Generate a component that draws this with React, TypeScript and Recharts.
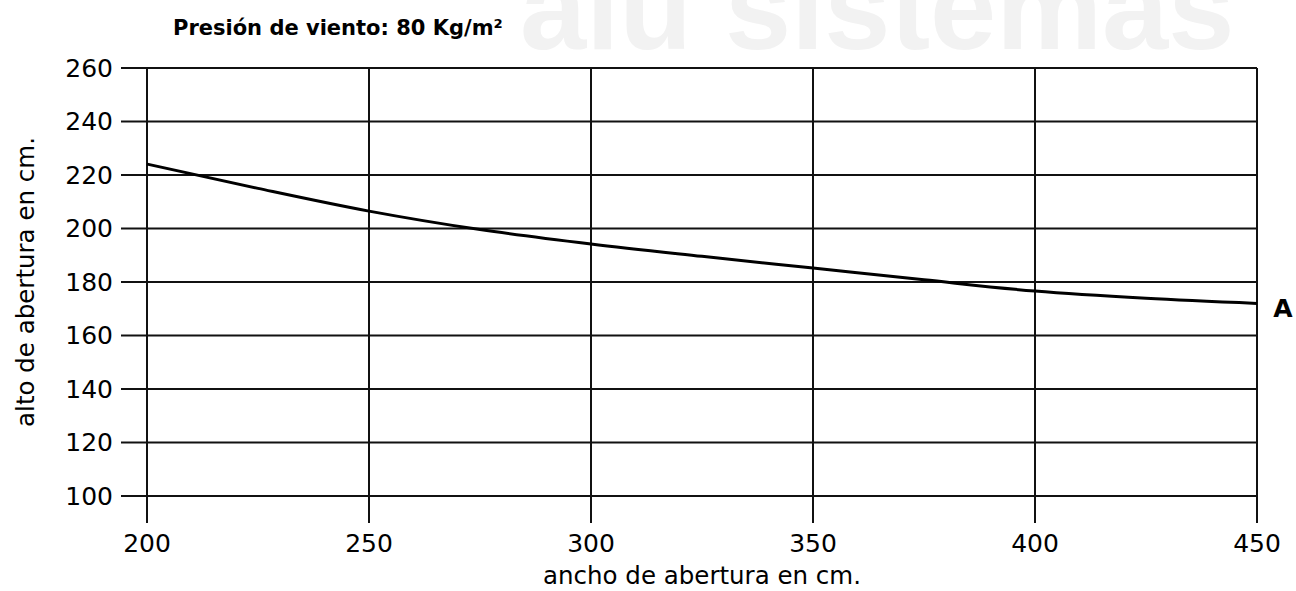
import React from 'react';
import { LineChart, Line, XAxis, YAxis, CartesianGrid, LabelList } from 'recharts';

// ancho de abertura (cm) -> alto de abertura (cm), curva A
const anchos = [200, 225, 250, 275, 300, 325, 350, 375, 400, 425, 450];
const altosA = [224.1, 215, 206.5, 199.6, 194.2, 189.6, 185.2, 180.8, 176.6, 173.9, 172];

const xTicks = [200, 250, 300, 350, 400, 450];
const yTicks = [100, 120, 140, 160, 180, 200, 220, 240, 260];

const titulo = 'Presión de viento: 80 Kg/m²';
const labelX = 'ancho de abertura en cm.';
const labelY = 'alto de abertura en cm.';
const nombreCurva = 'A';

const data = anchos.map((x, i) => ({ ancho: x, alto: altosA[i] }));

const FONT = '"DejaVu Sans", sans-serif';
const INK = '#000';

export default function App() {
  return (
    <div style={{ position: 'absolute', left: 0, top: 0, width: 1296, height: 591, background: '#fff', overflow: 'hidden' }}>
      {/* watermark, cut at the top edge like in the scan */}
      <div
        style={{
          position: 'absolute',
          left: 520,
          top: -52,
          fontFamily: '"Liberation Sans", Arial, sans-serif',
          fontWeight: 'bold',
          fontSize: 119,
          color: '#f2f2f2',
          whiteSpace: 'nowrap',
          lineHeight: '119px',
        }}
      >
        alu sistemas
      </div>
      <div
        style={{
          position: 'absolute',
          left: 173,
          top: 15,
          fontFamily: FONT,
          fontWeight: 'bold',
          fontSize: 21,
          color: INK,
          whiteSpace: 'nowrap',
          lineHeight: '26px',
        }}
      >
        {titulo}
      </div>
      <div style={{ position: 'absolute', left: 0, top: 0 }}>
        <LineChart width={1296} height={591} data={data} margin={{ top: 68, right: 39, left: 0, bottom: 0 }}>
          <CartesianGrid stroke="#111" strokeWidth={2} horizontalValues={yTicks} verticalValues={xTicks} />
          <XAxis
            dataKey="ancho"
            type="number"
            domain={[200, 450]}
            ticks={xTicks}
            height={95}
            tickSize={27}
            tickMargin={11}
            axisLine={false}
            tickLine={{ stroke: '#111', strokeWidth: 2 }}
            tick={{ fill: INK, fontSize: 25, fontFamily: FONT }}
            label={{
              content: (p: any) => {
                const vb = p.viewBox;
                return (
                  <text x={vb.x + vb.width / 2} y={vb.y + 88} textAnchor="middle" fill={INK} fontSize={24.5} fontFamily={FONT}>
                    {labelX}
                  </text>
                );
              },
            }}
          />
          <YAxis
            type="number"
            domain={[100, 260]}
            ticks={yTicks}
            width={147}
            tickSize={26}
            tickMargin={8}
            axisLine={false}
            tickLine={{ stroke: '#111', strokeWidth: 2 }}
            tick={{ fill: INK, fontSize: 25, fontFamily: FONT }}
            label={{
              content: (p: any) => {
                const vb = p.viewBox;
                const cx = vb.x + 25;
                const cy = vb.y + vb.height / 2;
                return (
                  <text
                    x={cx}
                    y={cy}
                    transform={`rotate(-90, ${cx}, ${cy})`}
                    textAnchor="middle"
                    dominantBaseline="central"
                    fill={INK}
                    fontSize={24.5}
                    fontFamily={FONT}
                  >
                    {labelY}
                  </text>
                );
              },
            }}
          />
          <Line
            type="monotone"
            dataKey="alto"
            stroke={INK}
            strokeWidth={3}
            dot={false}
            isAnimationActive={false}
          >
            <LabelList
              dataKey="alto"
              content={(p: any) =>
                p.index === anchos.length - 1 ? (
                  <text x={p.x + 26} y={p.y + 5} textAnchor="middle" dominantBaseline="central" fill={INK} fontSize={25} fontWeight="bold" fontFamily={FONT}>
                    {nombreCurva}
                  </text>
                ) : null
              }
            />
          </Line>
        </LineChart>
      </div>
    </div>
  );
}
